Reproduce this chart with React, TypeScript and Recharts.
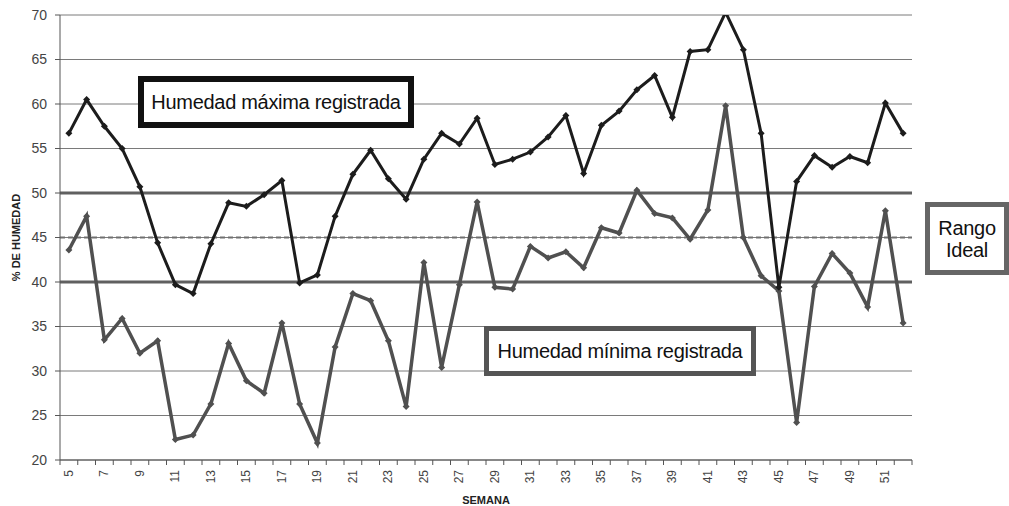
import { LineChart, Line, XAxis, YAxis, CartesianGrid, ReferenceLine } from 'recharts'

const weeks = [
  5, 6, 7, 8, 9, 10, 11, 12, 13, 14, 15, 16, 17, 18, 19, 20, 21, 22, 23, 24, 25, 26, 27, 28,
  29, 30, 31, 32, 33, 34, 35, 36, 37, 38, 39, 40, 41, 42, 43, 44, 45, 46, 47, 48, 49, 50, 51, 52,
]

const maxHumidity = [
  56.7, 60.5, 57.5, 55.0, 50.7, 44.4, 39.7, 38.7, 44.3, 48.9, 48.5, 49.8, 51.4, 39.9, 40.8, 47.4,
  52.1, 54.8, 51.6, 49.3, 53.8, 56.7, 55.5, 58.4, 53.2, 53.8, 54.6, 56.3, 58.7, 52.2, 57.6, 59.2,
  61.6, 63.2, 58.5, 65.9, 66.1, 70.3, 66.1, 56.7, 39.4, 51.3, 54.2, 52.9, 54.1, 53.4, 60.1, 56.7,
]

const minHumidity = [
  43.6, 47.4, 33.5, 35.9, 32.0, 33.4, 22.3, 22.8, 26.3, 33.1, 28.9, 27.5, 35.4, 26.3, 21.9, 32.7,
  38.7, 37.9, 33.4, 26.0, 42.2, 30.4, 39.7, 49.0, 39.4, 39.2, 44.0, 42.7, 43.4, 41.6, 46.1, 45.5,
  50.3, 47.7, 47.2, 44.8, 48.1, 59.8, 45.0, 40.7, 39.0, 24.2, 39.5, 43.2, 41.0, 37.2, 48.0, 35.4,
]

const yTicks = [20, 25, 30, 35, 40, 45, 50, 55, 60, 65, 70]

const data = weeks.map((w, i) => ({ week: w, max: maxHumidity[i], min: minHumidity[i] }))

const FONT = '"Liberation Sans", Arial, sans-serif'
const HALF_BAND = 852 / weeks.length / 2

function WeekTick(props: any) {
  const { x, payload, index } = props
  const last = index === weeks.length - 1
  return (
    <g>
      <line x1={x - HALF_BAND} x2={x - HALF_BAND} y1={460} y2={465} stroke="#555" />
      {last && <line x1={x + HALF_BAND} x2={x + HALF_BAND} y1={460} y2={465} stroke="#555" />}
      {index % 2 === 0 && (
        <text
          x={x}
          y={470}
          transform={`rotate(-90, ${x}, 470)`}
          textAnchor="end"
          dominantBaseline="central"
          fontSize={12}
          fill="#444"
          fontFamily={FONT}
        >
          {payload.value}
        </text>
      )}
    </g>
  )
}

function Diamond(props: any) {
  const { cx, cy, fill } = props
  if (cx == null || cy == null) return null
  const s = 3.5
  return <path d={`M${cx},${cy - s}L${cx + s},${cy}L${cx},${cy + s}L${cx - s},${cy}Z`} fill={fill} />
}

const boxText: React.CSSProperties = {
  position: 'absolute',
  background: '#fff',
  fontFamily: FONT,
  fontSize: 20,
  color: '#111',
  boxSizing: 'border-box',
  display: 'flex',
  alignItems: 'center',
  justifyContent: 'center',
  letterSpacing: -0.3,
}

export default function App() {
  return (
    <div style={{ position: 'absolute', left: 0, top: 0, width: 1009, height: 506, background: '#fff' }}>
      <LineChart
        width={1009}
        height={506}
        data={data}
        margin={{ top: 15, right: 97, bottom: 0, left: 0 }}
        style={{ fontFamily: FONT }}
      >
        <CartesianGrid vertical={false} stroke="#7a7a7a" strokeWidth={1} />
        <XAxis
          dataKey="week"
          scale="band"
          interval={0}
          height={46}
          tickLine={false}
          axisLine={{ stroke: '#555' }}
          tick={<WeekTick />}
          label={{
            value: 'SEMANA',
            position: 'insideBottom',
            offset: 0,
            fontSize: 11,
            fontWeight: 'bold',
            fill: '#222',
            dy: -2,
          }}
        />
        <YAxis
          domain={[20, 70]}
          ticks={yTicks}
          allowDataOverflow
          width={60}
          tickSize={5}
          tickMargin={8}
          tickLine={{ stroke: '#555' }}
          axisLine={{ stroke: '#555' }}
          tick={{ fontSize: 14, fill: '#444' }}
          label={{
            value: '% DE HUMEDAD',
            angle: -90,
            position: 'insideLeft',
            offset: 16,
            fontSize: 11,
            fontWeight: 'bold',
            fill: '#222',
            textAnchor: 'middle',
          }}
        />
        <YAxis
          yAxisId="right"
          orientation="right"
          width={0}
          tick={false}
          tickLine={false}
          axisLine={{ stroke: '#777' }}
        />
        <ReferenceLine y={50} stroke="#606060" strokeWidth={3} />
        <ReferenceLine y={40} stroke="#606060" strokeWidth={3} />
        <ReferenceLine y={45} stroke="#707070" strokeWidth={2} strokeDasharray="5 3" />
        <Line
          dataKey="min"
          stroke="#505050"
          strokeWidth={3.5}
          dot={<Diamond fill="#505050" />}
          isAnimationActive={false}
        />
        <Line
          dataKey="max"
          stroke="#1c1c1c"
          strokeWidth={3}
          dot={<Diamond fill="#1c1c1c" />}
          isAnimationActive={false}
        />
      </LineChart>
      <div style={{ ...boxText, left: 138, top: 76, width: 276, height: 52, border: '6px solid #111' }}>
        Humedad máxima registrada
      </div>
      <div style={{ ...boxText, left: 484, top: 326, width: 272, height: 50, border: '5px solid #555' }}>
        Humedad mínima registrada
      </div>
      <div
        style={{
          ...boxText,
          left: 925,
          top: 202,
          width: 84,
          height: 73,
          border: '5px solid #666',
          flexDirection: 'column',
          lineHeight: '22px',
        }}
      >
        <span>Rango</span>
        <span>Ideal</span>
      </div>
    </div>
  )
}
